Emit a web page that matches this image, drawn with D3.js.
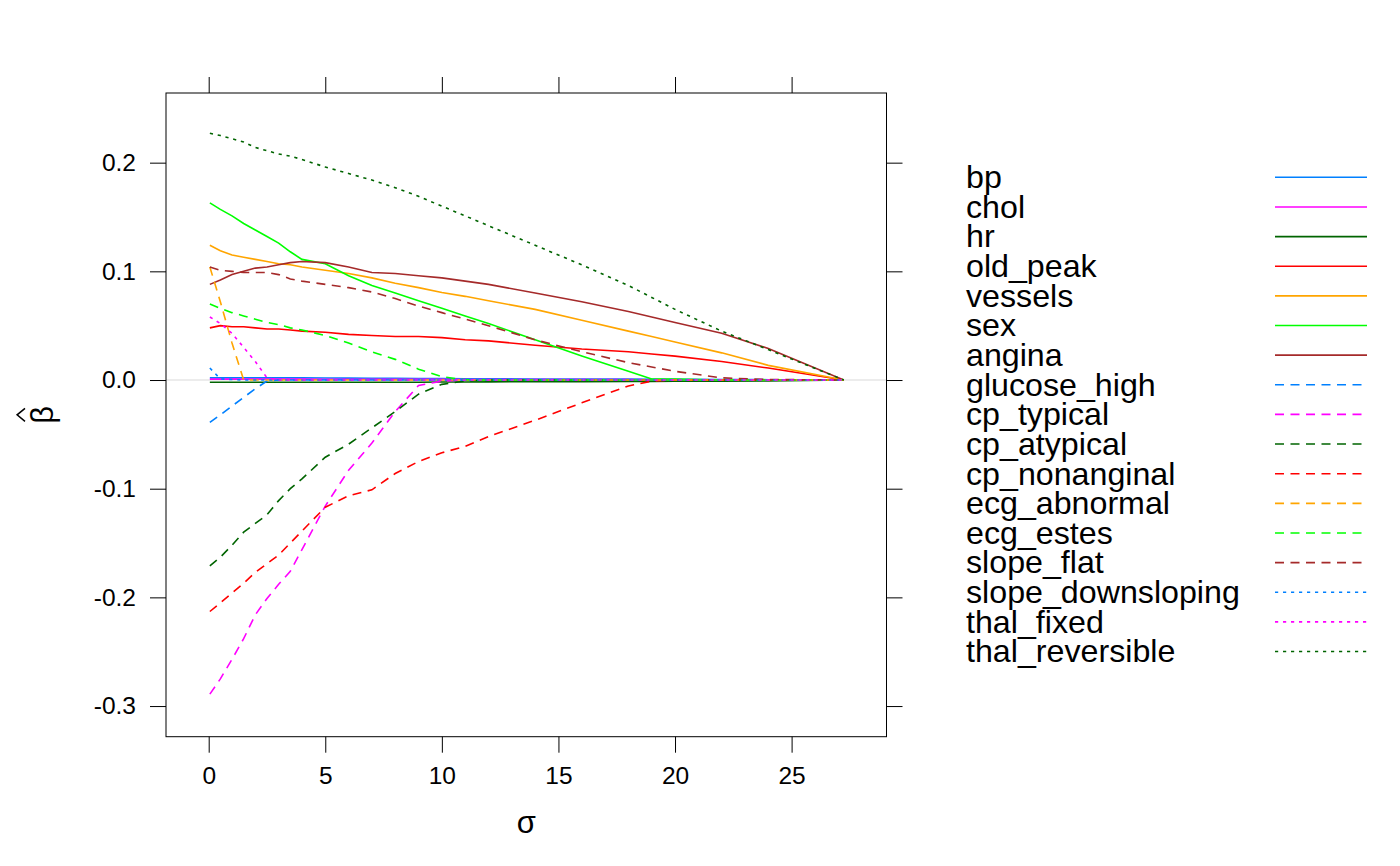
<!DOCTYPE html>
<html>
<head>
<meta charset="utf-8">
<script src="https://cdnjs.cloudflare.com/ajax/libs/d3/7.8.5/d3.min.js"></script>
<style>
  body { margin: 0; background: #fff; }
  text { font-family: "Liberation Sans", Arial, sans-serif; fill: #000; }
</style>
</head>
<body>
<div class="canvas"></div>
<script>
// sigma grid shared by every coefficient path
const sigma = [0.05, 0.5, 1, 1.5, 2, 2.5, 3, 3.5, 4, 5, 6, 7, 8, 9, 10, 11, 12, 14, 16, 18, 19, 20, 22, 24, 27.24];

// beta hat along the path
const bp = [0.002, 0.002, 0.002, 0.002, 0.002, 0.002, 0.002, 0.002, 0.002, 0.0018, 0.0017, 0.0016, 0.0015, 0.0014, 0.0013, 0.0012, 0.0011, 0.001, 0.0009, 0.0008, 0.0007, 0.0006, 0.0005, 0.0003, 0];
const chol = [0.0008, 0.0008, 0.0008, 0.0008, 0.0008, 0.0008, 0.0008, 0.0008, 0.0008, 0.0007, 0.0007, 0.0007, 0.0006, 0.0006, 0.0006, 0.0005, 0.0005, 0.0005, 0.0004, 0.0004, 0.0003, 0.0003, 0.0002, 0.0001, 0];
const hr = [-0.002, -0.002, -0.002, -0.002, -0.002, -0.002, -0.002, -0.002, -0.002, -0.002, -0.002, -0.002, -0.002, -0.002, -0.0018, -0.0018, -0.0017, -0.0016, -0.0015, -0.0014, -0.0013, -0.0012, -0.001, -0.0008, 0];
const old_peak = [0.048, 0.050, 0.049, 0.049, 0.048, 0.047, 0.047, 0.046, 0.045, 0.044, 0.042, 0.041, 0.040, 0.040, 0.039, 0.037, 0.036, 0.032, 0.0285, 0.026, 0.024, 0.022, 0.017, 0.011, 0];
const vessels = [0.124, 0.119, 0.115, 0.113, 0.111, 0.109, 0.107, 0.106, 0.104, 0.101, 0.098, 0.094, 0.089, 0.085, 0.0805, 0.077, 0.073, 0.065, 0.055, 0.045, 0.040, 0.035, 0.025, 0.0135, 0];
const sex = [0.163, 0.157, 0.151, 0.144, 0.138, 0.132, 0.126, 0.118, 0.111, 0.107, 0.096, 0.087, 0.080, 0.073, 0.066, 0.059, 0.052, 0.037, 0.022, 0.008, 0.001, 0.001, 0, 0, 0];
const angina = [0.088, 0.092, 0.097, 0.100, 0.103, 0.104, 0.106, 0.108, 0.109, 0.108, 0.104, 0.099, 0.098, 0.096, 0.094, 0.091, 0.088, 0.080, 0.072, 0.063, 0.058, 0.053, 0.043, 0.029, 0];
const glucose_high = [-0.039, -0.032, -0.024, -0.016, -0.008, -0.001, 0, 0, 0, 0, 0, 0, 0, 0, 0, 0, 0, 0, 0, 0, 0, 0, 0, 0, 0];
const cp_typical = [-0.289, -0.275, -0.257, -0.238, -0.216, -0.201, -0.188, -0.176, -0.156, -0.116, -0.083, -0.058, -0.029, -0.005, -0.001, 0, 0, 0, 0, 0, 0, 0, 0, 0, 0];
const cp_atypical = [-0.171, -0.163, -0.152, -0.140, -0.132, -0.124, -0.111, -0.100, -0.091, -0.071, -0.059, -0.044, -0.029, -0.013, -0.004, -0.001, 0, 0, 0, 0, 0, 0, 0, 0, 0];
const cp_nonanginal = [-0.213, -0.205, -0.196, -0.187, -0.177, -0.169, -0.161, -0.150, -0.139, -0.117, -0.1065, -0.101, -0.086, -0.075, -0.067, -0.061, -0.052, -0.037, -0.021, -0.0055, -0.001, 0, 0, 0, 0];
const ecg_abnormal = [0.104, 0.072, 0.034, 0, 0, 0, 0, 0, 0, 0, 0, 0, 0, 0, 0, 0, 0, 0, 0, 0, 0, 0, 0, 0, 0];
const ecg_estes = [0.070, 0.066, 0.062, 0.059, 0.056, 0.053, 0.051, 0.048, 0.046, 0.041, 0.034, 0.026, 0.019, 0.010, 0.003, 0.0003, 0, 0, 0, 0, 0, 0, 0, 0, 0];
const slope_flat = [0.104, 0.101, 0.100, 0.099, 0.099, 0.099, 0.097, 0.093, 0.091, 0.088, 0.085, 0.081, 0.075, 0.068, 0.062, 0.056, 0.050, 0.037, 0.026, 0.016, 0.012, 0.008, 0.002, 0.0005, 0];
const slope_downsloping = [0.011, 0.001, 0.0005, 0, 0, 0, 0, 0, 0, 0, 0, 0, 0, 0, 0, 0, 0, 0, 0, 0, 0, 0, 0, 0, 0];
const thal_fixed = [0.058, 0.052, 0.043, 0.030, 0.017, 0.002, 0, 0, 0, 0, 0, 0, 0, 0, 0, 0, 0, 0, 0, 0, 0, 0, 0, 0, 0];
const thal_reversible = [0.227, 0.225, 0.222, 0.219, 0.214, 0.211, 0.208, 0.206, 0.203, 0.196, 0.190, 0.184, 0.177, 0.169, 0.160, 0.151, 0.142, 0.124, 0.106, 0.087, 0.076, 0.065, 0.045, 0.028, 0];

const seriesNames = ['bp', 'chol', 'hr', 'old_peak', 'vessels', 'sex', 'angina', 'glucose_high',
    'cp_typical', 'cp_atypical', 'cp_nonanginal', 'ecg_abnormal', 'ecg_estes', 'slope_flat',
    'slope_downsloping', 'thal_fixed', 'thal_reversible'];
const seriesValues = [bp, chol, hr, old_peak, vessels, sex, angina, glucose_high,
    cp_typical, cp_atypical, cp_nonanginal, ecg_abnormal, ecg_estes, slope_flat,
    slope_downsloping, thal_fixed, thal_reversible];

const xTicks = [0, 5, 10, 15, 20, 25];
const yTicks = [0.2, 0.1, 0.0, -0.1, -0.2, -0.3];

// lattice superpose colours, then line types 1, 2, 3
const colours = ['#0080ff', '#ff00ff', '#006400', '#ff0000', '#ffa500', '#00ff00', '#a52a2a'];
const dashes = [null, '9,6.5', '3.2,4.8'];
const colourOf = i => colours[i % 7];
const dashOf = i => dashes[Math.floor(i / 7)];

const svg = d3.select('.canvas')
    .append('svg')
        .attr('width', 1400)
        .attr('height', 866);

// panel box
const panel = { left: 166, top: 93, right: 886.5, bottom: 736.7 };
const tickLen = 16;
const tickFont = 24.5;

const x = d3.scaleLinear()
    .domain([-1.831, 29.07])
    .range([panel.left, panel.right]);
const y = d3.scaleLinear()
    .domain([-0.3282, 0.2641])
    .range([panel.bottom, panel.top]);

svg.append('clipPath')
    .attr('id', 'clip')
  .append('rect')
    .attr('x', panel.left)
    .attr('y', panel.top)
    .attr('width', panel.right - panel.left)
    .attr('height', panel.bottom - panel.top);

const plot = svg.append('g').attr('clip-path', 'url(#clip)');

// zero reference line
plot.append('line')
    .attr('x1', panel.left)
    .attr('x2', panel.right)
    .attr('y1', y(0))
    .attr('y2', y(0))
    .attr('stroke', '#e6e6e6')
    .attr('stroke-width', 1.5);

const line = d3.line()
    .x((d, i) => x(sigma[i]))
    .y(d => y(d));

plot.selectAll('path.coef')
    .data(seriesValues)
    .enter()
    .append('path')
        .attr('class', 'coef')
        .attr('d', line)
        .attr('fill', 'none')
        .attr('stroke', (d, i) => colourOf(i))
        .attr('stroke-width', 1.6)
        .attr('stroke-dasharray', (d, i) => dashOf(i));

// axes on all four sides, labels only bottom and left
const fmt = d => d.toFixed(1);
const axes = [
    { axis: d3.axisBottom(x).tickValues(xTicks).tickFormat(d3.format('d')), at: `translate(0, ${panel.bottom})` },
    { axis: d3.axisTop(x).tickValues(xTicks).tickFormat(''), at: `translate(0, ${panel.top})` },
    { axis: d3.axisLeft(y).tickValues(yTicks).tickFormat(fmt), at: `translate(${panel.left}, 0)` },
    { axis: d3.axisRight(y).tickValues(yTicks).tickFormat(''), at: `translate(${panel.right}, 0)` }
];
axes.forEach(a => {
    const g = svg.append('g')
        .attr('transform', a.at)
        .call(a.axis.tickSize(tickLen).tickPadding(14));
    g.select('.domain').remove();
    g.selectAll('line').attr('stroke', '#000').attr('stroke-width', 1);
    g.selectAll('text')
        .attr('font-size', tickFont)
        .attr('font-family', '"Liberation Sans", Arial, sans-serif')
        .attr('fill', '#000');
});

svg.append('rect')
    .attr('x', panel.left)
    .attr('y', panel.top)
    .attr('width', panel.right - panel.left)
    .attr('height', panel.bottom - panel.top)
    .attr('fill', 'none')
    .attr('stroke', '#000')
    .attr('stroke-width', 1);

// axis titles
svg.append('text')
    .attr('x', (panel.left + panel.right) / 2)
    .attr('y', 833)
    .attr('text-anchor', 'middle')
    .attr('font-size', 31)
    .text('σ');

const ylab = svg.append('g')
    .attr('transform', `translate(52.6, ${(panel.top + panel.bottom) / 2}) rotate(-90)`);
ylab.append('text')
    .attr('x', 0)
    .attr('y', 0)
    .attr('text-anchor', 'middle')
    .attr('font-size', 31)
    .text('β');
ylab.append('path')
    .attr('d', 'M-6.5,-27.6 L0,-35.5 L6.5,-27.6')
    .attr('fill', 'none')
    .attr('stroke', '#000')
    .attr('stroke-width', 1.5);

// legend
const legendTop = 177.3;
const legendStep = 29.64;
const legend = svg.append('g');

const rows = legend.selectAll('g')
    .data(seriesNames)
    .enter()
    .append('g')
        .attr('transform', (d, i) => `translate(0, ${legendTop + i * legendStep})`);

rows.append('text')
    .attr('x', 966)
    .attr('y', 10.8)
    .attr('font-size', 32.2)
    .text(d => d);

rows.append('line')
    .attr('x1', 1275)
    .attr('x2', 1367)
    .attr('y1', 0)
    .attr('y2', 0)
    .attr('stroke', (d, i) => colourOf(i))
    .attr('stroke-width', 1.6)
    .attr('stroke-dasharray', (d, i) => dashOf(i));
</script>
</body>
</html>
